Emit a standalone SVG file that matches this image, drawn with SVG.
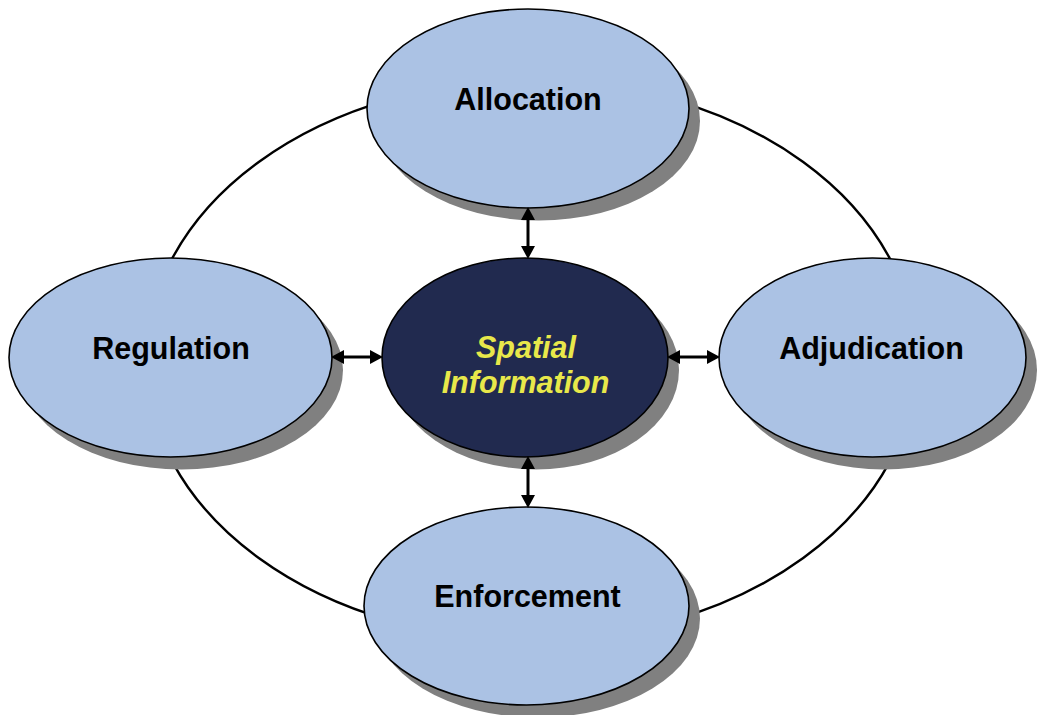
<svg xmlns="http://www.w3.org/2000/svg" width="1044" height="715" viewBox="0 0 1044 715">
<defs>
<style>
.shadow{fill:#808080;stroke:none}
.node{fill:#abc2e4;stroke:#000;stroke-width:1.6}
.core{fill:#212a4f;stroke:#000;stroke-width:1.6}
.lbl{font-family:"Liberation Sans",Arial,sans-serif;font-weight:bold;font-size:30.5px;fill:#000;text-anchor:middle}
.clbl{font-family:"Liberation Sans",Arial,sans-serif;font-weight:bold;font-style:italic;font-size:30.5px;fill:#e8e84a;text-anchor:middle}
.arr{stroke:#000;stroke-width:3;fill:none;marker-start:url(#ah);marker-end:url(#ah)}
</style>
<marker id="ah" markerUnits="userSpaceOnUse" markerWidth="14" markerHeight="14" viewBox="0 0 14 14" refX="2" refY="7" orient="auto-start-reverse">
<path d="M0,0 L13,7 L0,14 z" fill="#000"/>
</marker>
</defs>
<rect width="1044" height="715" fill="#fff"/>
<g id="ring">
<ellipse cx="531" cy="360" rx="385" ry="280" fill="none" stroke="#000" stroke-width="2.4"/>
</g>
<g id="allocation">
<ellipse class="shadow" cx="539" cy="121" rx="161" ry="99.5"/>
<ellipse class="node" cx="528" cy="108.5" rx="161" ry="99.5"/>
<text class="lbl" x="528" y="110">Allocation</text>
</g>
<g id="regulation">
<ellipse class="shadow" cx="181.5" cy="370" rx="161.5" ry="99.5"/>
<ellipse class="node" cx="170.5" cy="357.5" rx="161.5" ry="99.5"/>
<text class="lbl" x="171" y="359">Regulation</text>
</g>
<g id="adjudication">
<ellipse class="shadow" cx="883.5" cy="370" rx="153.5" ry="99.5"/>
<ellipse class="node" cx="872.5" cy="357.5" rx="153.5" ry="99.5"/>
<text class="lbl" x="871.5" y="359">Adjudication</text>
</g>
<g id="enforcement">
<ellipse class="shadow" cx="537.5" cy="618.5" rx="162.5" ry="99"/>
<ellipse class="node" cx="526.5" cy="606" rx="162.5" ry="99"/>
<text class="lbl" x="527.5" y="607">Enforcement</text>
</g>
<g id="spatial-information">
<ellipse class="shadow" cx="536" cy="370" rx="143" ry="99.5"/>
<ellipse class="core" cx="525" cy="357.5" rx="143" ry="99.5"/>
<text class="clbl" x="526" y="358">Spatial</text>
<text class="clbl" x="525.5" y="393">Information</text>
</g>
<g id="connectors">
<line class="arr" x1="528" y1="218" x2="528" y2="248"/>
<line class="arr" x1="528" y1="467" x2="528" y2="497"/>
<line class="arr" x1="342" y1="357" x2="372" y2="357"/>
<line class="arr" x1="678" y1="357" x2="709" y2="357"/>
</g>
</svg>
